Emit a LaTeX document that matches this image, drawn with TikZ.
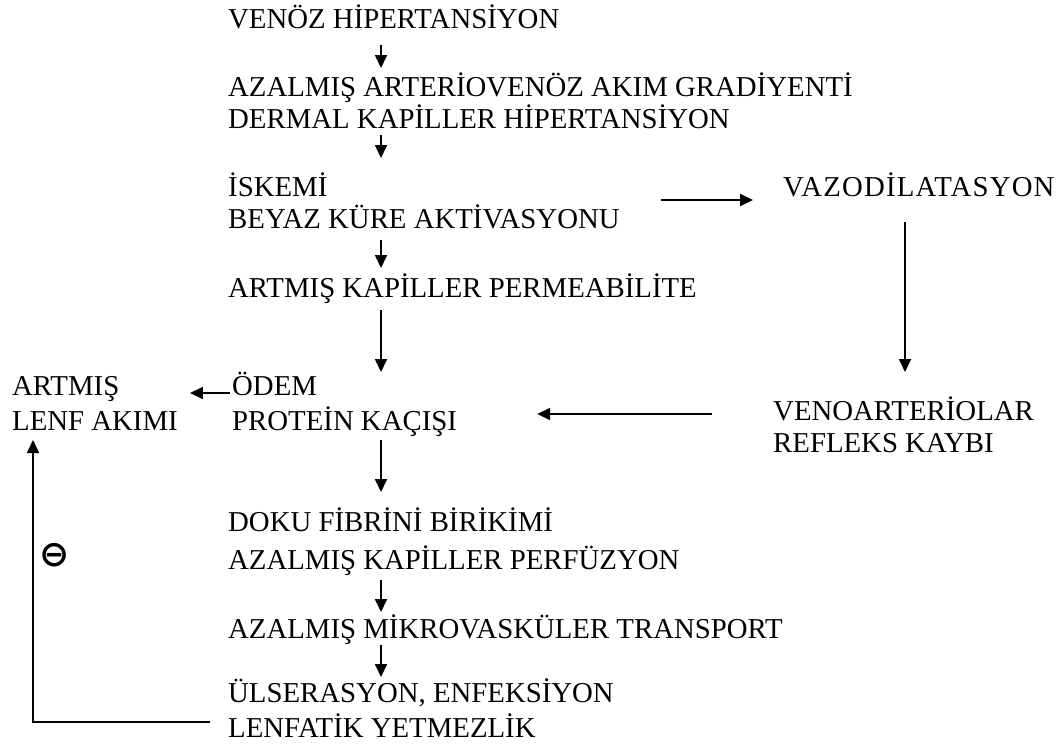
\documentclass[tikz,border=0pt]{standalone}
\usepackage{fontspec}
\setmainfont{Liberation Serif}
\newfontfamily\symfont{DejaVu Sans}
\usetikzlibrary{arrows.meta,calc}

\tikzset{
  txt/.style={anchor=base west,inner sep=0pt,font=\fontsize{28.8}{32}\selectfont},
  arr/.style={line width=1.7pt,-{Triangle[length=13pt,width=12pt]}},
}

\begin{document}
\begin{tikzpicture}[x=1pt,y=1pt,yscale=-1,xscale=1]
\useasboundingbox (0,0) rectangle (1064,747);
\coordinate (col) at (381,0);

% Text Node
\node[txt] (venoz) at (228,28) {VENÖZ HİPERTANSİYON};
\node[txt] (gradyan) at (228,96) {AZALMIŞ ARTERİOVENÖZ AKIM GRADİYENTİ};
\node[txt] (dermal) at (228,128) {DERMAL KAPİLLER HİPERTANSİYON};
\node[txt] (iskemi) at (228,196) {İSKEMİ};
\node[txt] (beyaz) at (228,228) {BEYAZ KÜRE AKTİVASYONU};
\node[txt] (vazo) at (783,196) {\addfontfeature{LetterSpace=4}VAZODİLATASYON};
\node[txt] (perm) at (228,297) {ARTMIŞ KAPİLLER PERMEABİLİTE};
\node[txt] (odem) at (232,395) {ÖDEM};
\node[txt] (protein) at (232,430) {PROTEİN KAÇIŞI};
\node[txt] (artmis) at (12,395) {ARTMIŞ};
\node[txt] (lenf) at (12,430) {LENF AKIMI};
\node[txt] (veno) at (773,420) {VENOARTERİOLAR};
\node[txt] (refleks) at (773,452) {REFLEKS KAYBI};
\node[txt] (doku) at (228,531) {DOKU FİBRİNİ BİRİKİMİ};
\node[txt] (perfuzyon) at (228,569) {AZALMIŞ KAPİLLER PERFÜZYON};
\node[txt] (transport) at (228,638) {AZALMIŞ MİKROVASKÜLER TRANSPORT};
\node[txt] (ulser) at (228,702) {ÜLSERASYON, ENFEKSİYON};
\node[txt] (lenfatik) at (228,737) {LENFATİK YETMEZLİK};
% Minus sign
\node[inner sep=0pt,font=\symfont\bfseries\fontsize{36}{36}\selectfont] (eksi) at (55,555) {⊖};

%Straight Lines - main column
\draw[arr] ($(venoz.base -| col)+(0,17)$) -- ($(gradyan.base -| col)+(0,-28)$);
\draw[arr] ($(dermal.base -| col)+(0,7)$) -- ($(iskemi.base -| col)+(0,-38)$);
\draw[arr] ($(beyaz.base -| col)+(0,12)$) -- ($(perm.base -| col)+(0,-29)$);
\draw[arr] ($(perm.base -| col)+(0,13)$) -- ($(odem.base -| col)+(0,-23)$);
\draw[arr] ($(protein.base -| col)+(0,10)$) -- ($(doku.base -| col)+(0,-39)$);
\draw[arr] ($(perfuzyon.base -| col)+(0,11)$) -- ($(transport.base -| col)+(0,-26)$);
\draw[arr] ($(transport.base -| col)+(0,7)$) -- ($(ulser.base -| col)+(0,-25)$);
%Straight Lines - side loop
\draw[arr] ($(beyaz.base east)+(41,-28)$) -- ($(vazo.base west)+(-30,4)$);
\draw[arr] ($(vazo.base west)+(122,26)$) -- ($(veno.base west)+(132,-48)$);
\draw[arr] ($(veno.base west)+(-61,-6)$) -- ($(protein.base east)+(80,-16)$);
\draw[arr] ($(odem.base west)+(-2,-2)$) -- ($(lenf.base east)+(12,-37)$);
%Feedback line
\draw[arr] ($(lenfatik.base west)+(-18,-15)$) -| ($(lenf.base west)+(21,10)$);

\end{tikzpicture}
\end{document}
